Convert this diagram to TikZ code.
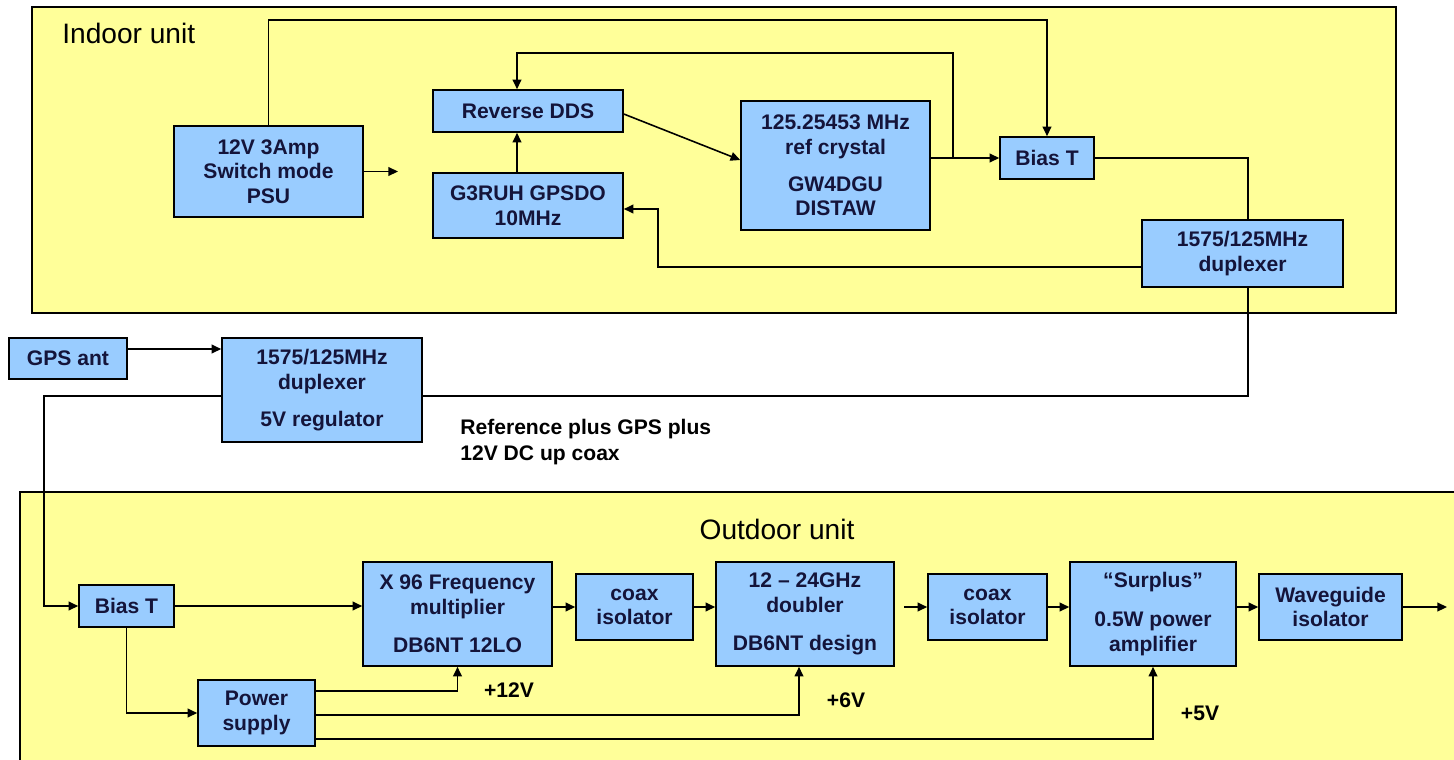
\documentclass[tikz,border=0pt]{standalone}
\usepackage{fontspec}
\setmainfont{Liberation Sans}
\usetikzlibrary{arrows.meta,positioning,calc}
\definecolor{unityellow}{HTML}{FFFF99}
\definecolor{boxblue}{HTML}{99CCFF}
\definecolor{inkblue}{HTML}{14143A}
\tikzset{
 blk/.style={draw=black,fill=boxblue,line width=0.9pt,align=center,inner sep=1pt,
  text=inkblue,font=\bfseries\fontsize{12}{14}\selectfont},
 unitframe/.style={draw=black,fill=unityellow,line width=0.8pt},
 lbl/.style={font=\bfseries\fontsize{12}{14.6}\selectfont,inner sep=0pt},
 title/.style={font=\fontsize{16}{19}\selectfont,inner sep=0pt},
 wire/.style={line width=0.9pt},
 >={Triangle[length=5.5pt,width=5pt]}
}

\begin{document}
\begin{tikzpicture}
\clip (0,0) rectangle (29.08,-15.18);
% unit frames
\draw[unitframe] (0.64,-0.14) rectangle (27.92,-6.26);
\draw[unitframe] (0.40,-9.84) rectangle (29.60,-15.60);
\node[title,anchor=west] (indoor) at (1.24,-0.66) {Indoor unit};
\node[title] (outdoor) at (15.54,-10.58) {Outdoor unit};

% indoor blocks
\node[blk,minimum width=3.78cm,minimum height=1.82cm] (psu) at (5.37,-3.43) {12V 3Amp\\Switch mode\\PSU};
\node[blk,minimum width=3.80cm,minimum height=0.84cm] (dds) at (10.56,-2.22) {Reverse DDS};
\node[blk,minimum width=3.80cm,minimum height=1.30cm] (gpsdo) at (10.56,-4.11) {G3RUH GPSDO\\10MHz};
\node[blk,minimum width=3.78cm,minimum height=2.58cm] (xtal) at (16.71,-3.31)
 {125.25453 MHz\\ref crystal\\[7pt]GW4DGU\\DISTAW};
\node[blk,minimum width=1.88cm,minimum height=0.84cm] (biast) at (20.94,-3.16) {Bias T};
\node[blk,minimum width=4.02cm,minimum height=1.34cm] (dupin) at (24.85,-5.07) {1575/125MHz\\duplexer};

% between the units
\node[blk,minimum width=2.36cm,minimum height=0.82cm] (gpsant) at (1.36,-7.17) {GPS ant};
\node[blk,minimum width=4.00cm,minimum height=2.08cm] (dupout) at (6.44,-7.80)
 {1575/125MHz\\duplexer\\[7pt]5V regulator};
\node[lbl,align=left,anchor=west] (coaxnote) at (9.20,-8.84) {Reference plus GPS plus\\12V DC up coax};

% outdoor blocks
\node[blk,minimum width=1.90cm,minimum height=0.84cm] (biasto) at (2.53,-12.12) {Bias T};
\node[blk,minimum width=2.34cm,minimum height=1.32cm] (psup) at (5.13,-14.26) {Power\\supply};
\node[blk,minimum width=3.78cm,minimum height=2.08cm] (mult) at (9.15,-12.28)
 {X 96 Frequency\\multiplier\\[8pt]DB6NT 12LO};
\node[blk,minimum width=2.34cm,minimum height=1.32cm] (coaxa) at (12.69,-12.14) {coax\\isolator};
\node[blk,minimum width=3.56cm,minimum height=2.08cm] (dbl) at (16.10,-12.28)
 {12 – 24GHz\\doubler\\[8pt]DB6NT design};
\node[blk,minimum width=2.38cm,minimum height=1.32cm] (coaxb) at (19.75,-12.14) {coax\\isolator};
\node[blk,minimum width=3.32cm,minimum height=2.08cm] (pa) at (23.06,-12.28)
 {“Surplus”\\[8pt]0.5W power\\amplifier};
\node[blk,minimum width=2.86cm,minimum height=1.32cm] (wgi) at (26.61,-12.14) {Waveguide\\isolator};
\node[lbl] (v12) at (10.18,-13.80) {+12V};
\node[lbl] (v6) at (16.92,-14.00) {+6V};
\node[lbl] (v5) at (24.00,-14.26) {+5V};

% free ends and bends
\coordinate (psuout) at (7.96,-3.43);
\coordinate (dctop) at (20.94,-0.40);
\coordinate (tap) at (19.06,-3.16);
\coordinate (fbtop) at (19.06,-1.06);
\coordinate (ret) at (13.16,-4.18);
\coordinate (feed) at (0.88,-12.12);
\coordinate (dblout) at (18.08,-12.14);
\coordinate (txout) at (28.94,-12.14);

% indoor wiring
\draw[wire,->] (psu.east) -- (psuout);
\draw[wire,->] (psu.north) |- (dctop) -- (biast.north);
\draw[wire,->] ([xshift=-0.22cm]gpsdo.north) -- ([xshift=-0.22cm]dds.south);
\draw[wire,->] ([yshift=-0.06cm]dds.east) -- ([yshift=0.11cm]xtal.west);
\draw[wire,->] (biast.west -| xtal.east) -- (biast.west);
\draw[wire,->] (tap) -- (fbtop) -| ([xshift=-0.22cm]dds.north);
\draw[wire] (biast.east) -| ([xshift=0.11cm]dupin.north);
\draw[wire,->] ([yshift=-0.27cm]dupin.west) -| (ret) -- (ret -| gpsdo.east);

% coax run
\draw[wire] ([xshift=0.11cm]dupin.south) |- ([yshift=-0.12cm]dupout.east);
\draw[wire,->] ([yshift=0.19cm]gpsant.east) -- ([yshift=0.19cm]gpsant.east -| dupout.west);
\draw[wire,->] ([yshift=-0.12cm]dupout.west) -| (feed) -- (biasto.west);

% outdoor wiring
\draw[wire,->] (biasto.east) -- (biasto.east -| mult.west);
\draw[wire,->] (biasto.south) |- (psup.west);
\draw[wire,->] ([yshift=0.44cm]psup.east) -| (mult.south);
\draw[wire,->] ([yshift=-0.04cm]psup.east) -| ([xshift=-0.12cm]dbl.south);
\draw[wire,->] ([yshift=-0.52cm]psup.east) -| (pa.south);
\draw[wire,->] (coaxa.west -| mult.east) -- (coaxa.west);
\draw[wire,->] (coaxa.east) -- (coaxa.east -| dbl.west);
\draw[wire,->] (dblout) -- (coaxb.west);
\draw[wire,->] (coaxb.east) -- (coaxb.east -| pa.west);
\draw[wire,->] (wgi.west -| pa.east) -- (wgi.west);
\draw[wire,->] (wgi.east) -- (txout);
\end{tikzpicture}
\end{document}
